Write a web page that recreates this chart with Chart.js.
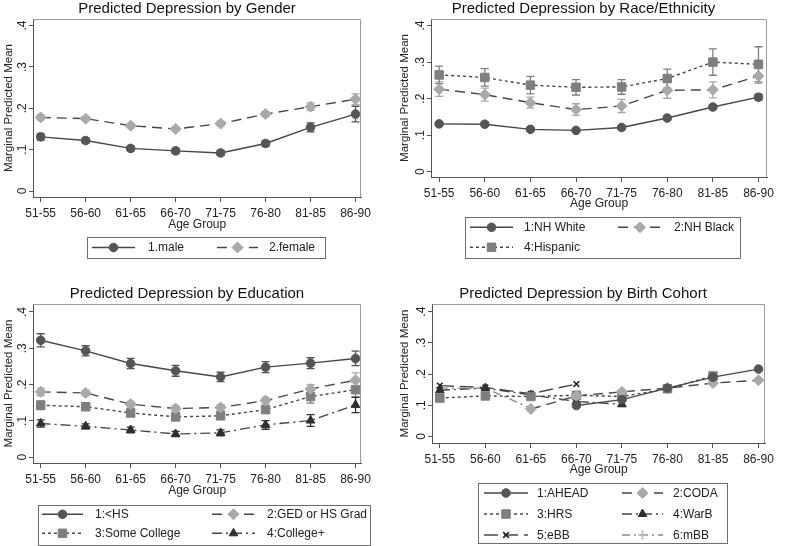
<!DOCTYPE html>
<html>
<head>
<meta charset="utf-8">
<script src="https://cdn.jsdelivr.net/npm/chart.js@4.4.1/dist/chart.umd.min.js"></script>
<style>
html,body{margin:0;padding:0;background:#fff;width:787px;height:546px;overflow:hidden;}
.panel{position:absolute;}
canvas{display:block;}
</style>
</head>
<body>
<div class="panel" style="left:0px;top:0px"><canvas id="c1" width="375" height="270" style="width:375px;height:270px"></canvas></div>
<div class="panel" style="left:394px;top:0px"><canvas id="c2" width="384" height="270" style="width:384px;height:270px"></canvas></div>
<div class="panel" style="left:0px;top:270px"><canvas id="c3" width="375" height="276" style="width:375px;height:276px"></canvas></div>
<div class="panel" style="left:394px;top:270px"><canvas id="c4" width="384" height="276" style="width:384px;height:276px"></canvas></div>
<script>
// ---------- DATA ----------
const ageGroups = ['51-55','56-60','61-65','66-70','71-75','76-80','81-85','86-90'];
const yTickValues = [0, 0.1, 0.2, 0.3, 0.4];
const yTickLabels = ['0', '.1', '.2', '.3', '.4'];

// Gender
const genderMale      = [0.131,0.122,0.103,0.097,0.092,0.115,0.154,0.186];
const genderMaleErr   = [0.008,0.006,0.006,0.006,0.006,0.007,0.011,0.019];
const genderFemale    = [0.178,0.175,0.158,0.150,0.163,0.186,0.204,0.222];
const genderFemaleErr = [0.006,0.005,0.005,0.005,0.006,0.006,0.009,0.013];

// Race / Ethnicity
const raceWhite       = [0.131,0.130,0.116,0.113,0.121,0.147,0.177,0.204];
const raceWhiteErr    = [0.004,0.004,0.004,0.004,0.004,0.005,0.006,0.008];
const raceBlack       = [0.226,0.211,0.189,0.170,0.180,0.223,0.224,0.262];
const raceBlackErr    = [0.020,0.018,0.015,0.016,0.018,0.022,0.022,0.020];
const raceHispanic    = [0.265,0.258,0.237,0.231,0.232,0.255,0.300,0.294];
const raceHispanicErr = [0.024,0.024,0.024,0.021,0.020,0.026,0.036,0.048];

// Education
const eduLessHS       = [0.322,0.293,0.258,0.238,0.221,0.248,0.259,0.272];
const eduLessHSErr    = [0.018,0.014,0.014,0.015,0.013,0.015,0.015,0.020];
const eduGED          = [0.180,0.177,0.146,0.134,0.137,0.156,0.188,0.212];
const eduGEDErr       = [0.010,0.008,0.008,0.008,0.008,0.009,0.012,0.020];
const eduSomeCollege  = [0.143,0.139,0.122,0.111,0.114,0.131,0.167,0.186];
const eduSomeCollegeErr=[0.012,0.008,0.010,0.009,0.009,0.010,0.018,0.020];
const eduCollegePlus  = [0.093,0.085,0.075,0.064,0.067,0.089,0.101,0.144];
const eduCollegePlusErr=[0.010,0.007,0.008,0.007,0.008,0.012,0.016,0.021];

// Birth cohort
const cohortAHEAD = [null,null,null,0.099,0.118,0.155,0.190,0.216];
const cohortCODA  = [null,null,0.088,0.130,0.143,0.155,0.171,0.180];
const cohortHRS   = [0.123,0.130,0.128,0.132,0.128,0.153,0.194,null];
const cohortWarB  = [0.148,0.155,0.133,0.112,0.103,null,null,null];
const cohortEBB   = [0.163,0.157,0.137,0.168,null,null,null,null];
const cohortMBB   = [0.155,0.155,0.090,null,null,null,null,null];

// ---------- STYLE ----------
const FONT = '"Liberation Sans", Arial, Helvetica, sans-serif';
Chart.defaults.font.family = FONT;
Chart.defaults.color = '#222';
const LINE = '#474747';
const S = {
  circle:   {style:'circle',   r:4.3, marker:'#555555', line:LINE, dash:[]},
  diamond:  {style:'rectRot',  r:5.5, marker:'#a9a9a9', line:LINE, dash:[10,6]},
  square:   {style:'rect',     r:6.0, marker:'#7f7f7f', line:LINE, dash:[3,3]},
  triangle: {style:'triangle', r:5.0, marker:'#2e2e2e', line:LINE, dash:[10,4,2,4]},
  xmark:    {style:'crossRot', r:4.0, marker:'#222222', line:LINE, dash:[14,6]},
  plus:     {style:'cross',    r:4.5, marker:'#b8b8b8', line:'#8a8a8a', dash:[8,4,2,4]}
};

// ---------- PLUGINS ----------
const framePlugin = {
  id: 'frame',
  beforeDatasetsDraw(chart) {
    const a = chart.chartArea, ctx = chart.ctx;
    ctx.save();
    ctx.strokeStyle = '#9c9c9c'; ctx.lineWidth = 1;
    ctx.beginPath();
    ctx.moveTo(Math.round(a.left)+0.5, Math.round(a.top)+0.5);
    ctx.lineTo(Math.round(a.right)-0.5, Math.round(a.top)+0.5);
    ctx.lineTo(Math.round(a.right)-0.5, Math.round(a.bottom));
    ctx.stroke();
    ctx.restore();
  }
};

const errPlugin = {
  id: 'errbars',
  beforeDatasetsDraw(chart) {
    const ctx = chart.ctx, xs = chart.scales.x, ys = chart.scales.y;
    ctx.save();
    chart.data.datasets.forEach(ds => {
      if (!ds.err) return;
      ctx.strokeStyle = ds.errColor; ctx.lineWidth = 1.3; ctx.setLineDash([]);
      ds.data.forEach((pt, i) => {
        if (pt.y === null || ds.err[i] == null) return;
        const x = xs.getPixelForValue(pt.x);
        const y1 = ys.getPixelForValue(pt.y - ds.err[i]);
        const y2 = ys.getPixelForValue(pt.y + ds.err[i]);
        ctx.beginPath();
        ctx.moveTo(x, y1); ctx.lineTo(x, y2);
        ctx.moveTo(x-4, y1); ctx.lineTo(x+4, y1);
        ctx.moveTo(x-4, y2); ctx.lineTo(x+4, y2);
        ctx.stroke();
      });
    });
    ctx.restore();
  }
};

const yLabelPlugin = {
  id: 'ylab',
  afterDraw(chart, args, o) {
    const ctx = chart.ctx, ys = chart.scales.y;
    ctx.save();
    ctx.font = '12px ' + FONT; ctx.fillStyle = '#222';
    ctx.textAlign = 'center'; ctx.textBaseline = 'middle';
    yTickValues.forEach((v, i) => {
      ctx.save();
      ctx.translate(o.x, ys.getPixelForValue(v));
      ctx.rotate(-Math.PI/2);
      ctx.fillText(yTickLabels[i], 0, 0);
      ctx.restore();
    });
    ctx.restore();
  }
};

const legendPlugin = {
  id: 'boxlegend',
  afterDraw(chart, args, o) {
    const ctx = chart.ctx;
    ctx.save();
    ctx.strokeStyle = '#6e6e6e'; ctx.lineWidth = 1; ctx.setLineDash([]);
    ctx.strokeRect(o.box[0]+0.5, o.box[1]+0.5, o.box[2]-o.box[0], o.box[3]-o.box[1]);
    chart.data.datasets.forEach((ds, i) => {
      const col = i % 2, row = Math.floor(i / 2);
      const y = o.rows[row];
      const sx1 = o.sample[col][0], sx2 = o.sample[col][1];
      ctx.strokeStyle = ds.borderColor; ctx.lineWidth = ds.borderWidth;
      ctx.setLineDash(ds.borderDash || []);
      ctx.beginPath(); ctx.moveTo(sx1, y); ctx.lineTo(sx2, y); ctx.stroke();
      ctx.setLineDash([]);
      ctx.fillStyle = ds.pointBackgroundColor; ctx.strokeStyle = ds.pointBorderColor;
      ctx.lineWidth = ds.pointBorderWidth;
      Chart.helpers.drawPoint(ctx, {pointStyle: ds.pointStyle, radius: ds.pointRadius, rotation: 0, borderWidth: ds.pointBorderWidth}, (sx1+sx2)/2, y);
      ctx.fillStyle = '#222'; ctx.font = '12px ' + FONT;
      ctx.textAlign = 'left'; ctx.textBaseline = 'middle';
      ctx.fillText(ds.label, o.text[col], y + 0.5);
    });
    ctx.restore();
  }
};

// ---------- BUILDER ----------
function makePanel(id, p) {
  const datasets = p.series.map(s => ({
    label: s.label,
    data: s.values.map((v, i) => ({x: i, y: v})),
    err: s.err || null,
    errColor: s.st.marker,
    borderColor: s.st.line,
    borderWidth: 1.4,
    borderDash: s.st.dash,
    pointStyle: s.st.style,
    pointRadius: s.st.r,
    pointBackgroundColor: s.st.marker,
    pointBorderColor: s.st.marker,
    pointBorderWidth: s.st.style === 'crossRot' || s.st.style === 'cross' ? 1.6 : 1,
    fill: false, tension: 0, spanGaps: false
  }));
  return new Chart(document.getElementById(id), {
    type: 'line',
    data: {datasets},
    options: {
      responsive: false, animation: false, devicePixelRatio: 1,
      events: [],
      layout: {padding: {left: 0, right: p.padRight, top: p.padTop, bottom: p.padBottom}},
      plugins: {
        legend: {display: false},
        tooltip: {enabled: false},
        title: {display: true, text: p.title, color: '#111',
                font: {family: FONT, size: 15, weight: 'normal', lineHeight: 1.2},
                padding: {top: 0, bottom: 1}},
        ylab: {x: p.yLabelX},
        boxlegend: p.legend
      },
      scales: {
        x: {
          type: 'linear', min: p.xMin, max: p.xMax,
          afterBuildTicks: s => { s.ticks = ageGroups.map((_, i) => ({value: i})); },
          afterFit: s => { s.height = p.xHeight; },
          ticks: {autoSkip: false, maxRotation: 0, minRotation: 0, padding: 4, color: '#222',
                  font: {family: FONT, size: 12},
                  callback: v => ageGroups[Math.round(v)]},
          grid: {display: true, drawOnChartArea: false, drawTicks: true, tickLength: 5, color: '#555', lineWidth: 1},
          border: {display: true, color: '#555', width: 1},
          title: {display: true, text: 'Age Group', color: '#222',
                  font: {family: FONT, size: 12, lineHeight: 1.2}, padding: {top: 0, bottom: 0}}
        },
        y: {
          type: 'linear', min: p.yMin, max: p.yMax,
          afterBuildTicks: s => { s.ticks = yTickValues.map(v => ({value: v})); },
          afterFit: s => { s.width = p.yWidth; },
          ticks: {display: false},
          grid: {display: true, drawOnChartArea: false, drawTicks: true, tickLength: 4, color: '#555', lineWidth: 1},
          border: {display: true, color: '#555', width: 1},
          title: {display: true, text: 'Marginal Predicted Mean', color: '#222',
                  font: {family: FONT, size: 11.5, lineHeight: 1.2}, padding: {top: p.yTitlePad, bottom: 0}}
        }
      }
    },
    plugins: [framePlugin, errPlugin, yLabelPlugin, legendPlugin]
  });
}

makePanel('c1', {
  title: 'Predicted Depression by Gender',
  padTop: 0, padRight: 1, padBottom: 38, xHeight: 35, yWidth: 33, yTitlePad: 2, yLabelX: 22.5,
  xMin: -0.171, xMax: 7.13, yMin: -0.0145, yMax: 0.416,
  legend: {box: [87, 237, 325, 258], rows: [247.5], sample: [[92, 135], [217, 258]], text: [148, 269]},
  series: [
    {label: '1.male',   values: genderMale,   err: genderMaleErr,   st: S.circle},
    {label: '2.female', values: genderFemale, err: genderFemaleErr, st: S.diamond}
  ]
});

makePanel('c2', {
  title: 'Predicted Depression by Race/Ethnicity',
  padTop: 0, padRight: 5, padBottom: 59, xHeight: 34, yWidth: 37, yTitlePad: 4, yLabelX: 26.5,
  xMin: -0.179, xMax: 7.19, yMin: -0.0145, yMax: 0.418,
  legend: {box: [71, 217, 346, 258], rows: [227.3, 247.3], sample: [[76, 119], [224, 268]], text: [130, 280]},
  series: [
    {label: '1:NH White', values: raceWhite,    err: raceWhiteErr,    st: S.circle},
    {label: '2:NH Black', values: raceBlack,    err: raceBlackErr,    st: S.diamond},
    {label: '4:Hispanic', values: raceHispanic, err: raceHispanicErr, st: S.square}
  ]
});

makePanel('c3', {
  title: 'Predicted Depression by Education',
  padTop: 15, padRight: 1, padBottom: 48, xHeight: 35, yWidth: 33, yTitlePad: 2, yLabelX: 22.5,
  xMin: -0.171, xMax: 7.13, yMin: -0.016, yMax: 0.422,
  legend: {box: [38, 235, 370, 275], rows: [244.3, 263.3], sample: [[42, 83], [212, 255]], text: [95, 267]},
  series: [
    {label: '1:<HS',            values: eduLessHS,      err: eduLessHSErr,      st: S.circle},
    {label: '2:GED or HS Grad', values: eduGED,         err: eduGEDErr,         st: S.diamond},
    {label: '3:Some College',   values: eduSomeCollege, err: eduSomeCollegeErr, st: S.square},
    {label: '4:College+',       values: eduCollegePlus, err: eduCollegePlusErr, st: S.triangle}
  ]
});

makePanel('c4', {
  title: 'Predicted Depression by Birth Cohort',
  padTop: 15, padRight: 6, padBottom: 69, xHeight: 34, yWidth: 38, yTitlePad: 4, yLabelX: 27.5,
  xMin: -0.172, xMax: 7.15, yMin: -0.021, yMax: 0.4246,
  legend: {box: [84, 213, 333, 273], rows: [223, 244, 265], sample: [[90, 134], [228, 269]], text: [143, 279]},
  series: [
    {label: '1:AHEAD', values: cohortAHEAD, st: S.circle},
    {label: '2:CODA',  values: cohortCODA,  st: S.diamond},
    {label: '3:HRS',   values: cohortHRS,   st: S.square},
    {label: '4:WarB',  values: cohortWarB,  st: S.triangle},
    {label: '5:eBB',   values: cohortEBB,   st: S.xmark},
    {label: '6:mBB',   values: cohortMBB,   st: S.plus}
  ]
});
</script>
</body>
</html>
